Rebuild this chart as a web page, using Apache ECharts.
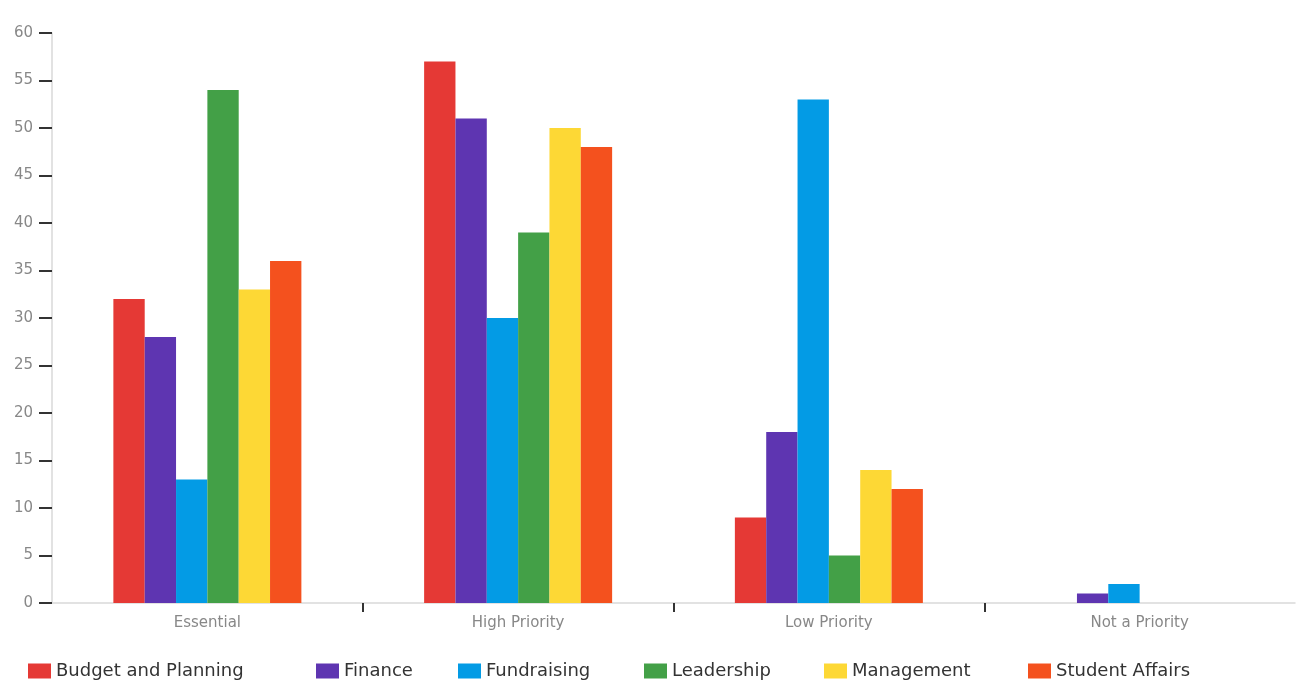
<!DOCTYPE html>
<html><head><meta charset="utf-8">
<script src="https://cdn.jsdelivr.net/npm/echarts@6/dist/echarts.min.js"></script>
<style>html,body{margin:0;padding:0;background:#fff}#c{width:1298px;height:683px}</style>
</head><body><div id="c"></div>
<script>
const categories = ["Essential", "High Priority", "Low Priority", "Not a Priority"];
const seriesNames = ["Budget and Planning", "Finance", "Fundraising", "Leadership", "Management", "Student Affairs"];
const budgetPlanning = [32, 57, 9, 0];
const finance = [28, 51, 18, 1];
const fundraising = [13, 30, 53, 2];
const leadership = [54, 39, 5, 0];
const management = [33, 50, 14, 0];
const studentAffairs = [36, 48, 12, 0];
const yTicks = [0, 5, 10, 15, 20, 25, 30, 35, 40, 45, 50, 55, 60];

const colors = ["#e53935", "#5e35b1", "#039be5", "#43a047", "#fdd835", "#f4511e"];
const values = [budgetPlanning, finance, fundraising, leadership, management, studentAffairs];
const legendLeft = [28, 316, 458, 644, 824, 1028];
const FONT = '"DejaVu Sans", Verdana, sans-serif';
const boundaries = categories.slice(1).map((c, i) => i + 1);
const chart = echarts.init(document.getElementById('c'), null, {renderer: 'canvas'});
chart.setOption({
  animation: false,
  color: colors,
  textStyle: {fontFamily: FONT},
  grid: {left: 52, right: 3, top: 33, bottom: 80, containLabel: false},
  legend: seriesNames.map((n, i) => ({
    top: 662, left: legendLeft[i],
    itemWidth: 23, itemHeight: 15, itemGap: 8,
    icon: 'rect', padding: 0,
    textStyle: {fontSize: 18, color: '#333', fontFamily: FONT},
    data: [n]
  })),
  xAxis: [{
    type: 'category', data: categories,
    axisLine: {lineStyle: {color: '#d9d9d9', width: 1.5}},
    axisTick: {show: false},
    axisLabel: {color: '#888', fontSize: 15, margin: 13}
  }, {
    type: 'value', position: 'bottom', min: 0, max: categories.length,
    axisLine: {show: false},
    axisLabel: {show: false},
    splitLine: {show: false},
    axisTick: {show: true, length: 9, lineStyle: {color: '#333', width: 2}, customValues: boundaries}
  }],
  yAxis: {
    type: 'value', min: yTicks[0], max: yTicks[yTicks.length-1], interval: 5,
    axisLine: {show: true, lineStyle: {color: '#d9d9d9', width: 1.5}},
    axisTick: {show: true, length: 13, lineStyle: {color: '#333', width: 2}},
    axisLabel: {color: '#888', fontSize: 15, margin: 19},
    splitLine: {show: false}
  },
  series: seriesNames.map((n, i) => ({
    name: n, type: 'bar', data: values[i], xAxisIndex: 0,
    barGap: '0%', barCategoryGap: '39.5%'
  }))
});
</script></body></html>
